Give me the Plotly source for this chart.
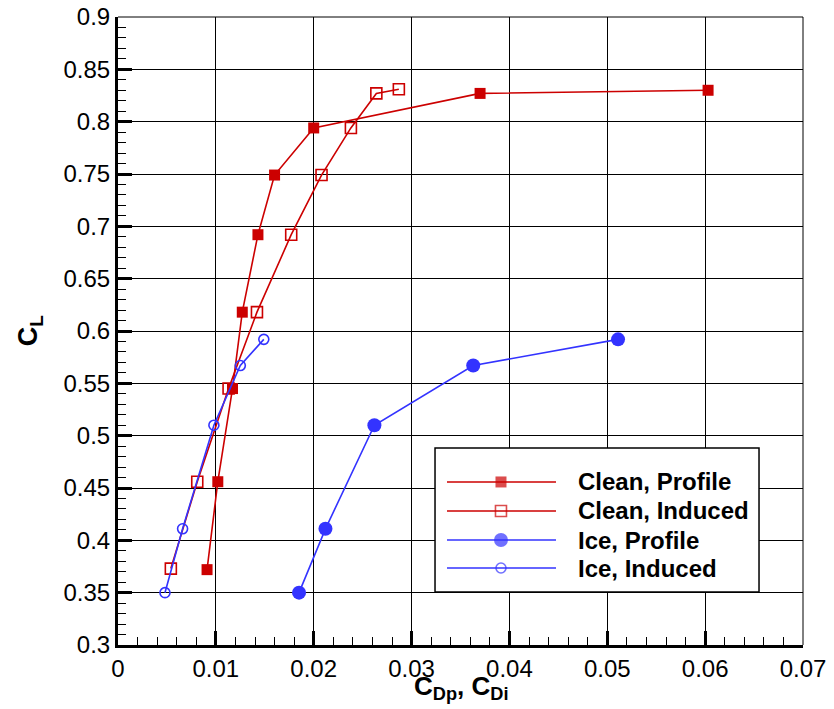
import plotly.graph_objects as go

# ---- data ----
clean_profile_cd = [0.0091, 0.0102, 0.0117, 0.0127, 0.0143, 0.0160, 0.0200, 0.0370, 0.0603]
clean_profile_cl = [0.372, 0.456, 0.545, 0.618, 0.692, 0.749, 0.794, 0.827, 0.830]

clean_induced_cd = [0.0054, 0.0081, 0.0113, 0.0142, 0.0177, 0.0208, 0.0238, 0.0264, 0.0287]
clean_induced_cl = [0.373, 0.456, 0.545, 0.618, 0.692, 0.749, 0.794, 0.827, 0.831]

ice_profile_cd = [0.0185, 0.0212, 0.0262, 0.0363, 0.0511]
ice_profile_cl = [0.350, 0.411, 0.510, 0.567, 0.592]

ice_induced_cd = [0.0048, 0.0066, 0.0098, 0.0125, 0.0149]
ice_induced_cl = [0.350, 0.411, 0.510, 0.567, 0.592]

series_names = ["Clean, Profile", "Clean, Induced", "Ice, Profile", "Ice, Induced"]

x_ticks = [0, 0.01, 0.02, 0.03, 0.04, 0.05, 0.06, 0.07]
x_ticklabels = ["0", "0.01", "0.02", "0.03", "0.04", "0.05", "0.06", "0.07"]
y_ticks = [0.3, 0.35, 0.4, 0.45, 0.5, 0.55, 0.6, 0.65, 0.7, 0.75, 0.8, 0.85, 0.9]
y_ticklabels = ["0.3", "0.35", "0.4", "0.45", "0.5", "0.55", "0.6", "0.65", "0.7", "0.75", "0.8", "0.85", "0.9"]

RED = "#CC0000"
BLUE = "#3333FF"
FONT = "Liberation Sans, Arial, sans-serif"

styles = [
    dict(color=RED, symbol="square", size=11, lw=0),
    dict(color=RED, symbol="square-open", size=11, lw=1.6),
    dict(color=BLUE, symbol="circle", size=14, lw=0),
    dict(color=BLUE, symbol="circle-open", size=10, lw=1.6),
]
data = [
    (clean_profile_cd, clean_profile_cl),
    (clean_induced_cd, clean_induced_cl),
    (ice_profile_cd, ice_profile_cl),
    (ice_induced_cd, ice_induced_cl),
]

fig = go.Figure()
for (xs, ys), st, name in zip(data, styles, series_names):
    fig.add_trace(go.Scatter(
        x=xs, y=ys, mode="lines+markers", name=name, showlegend=False,
        line=dict(color=st["color"], width=1.6),
        marker=dict(symbol=st["symbol"], size=st["size"], color=st["color"],
                    line=dict(color=st["color"], width=st["lw"])),
    ))

# ---- custom legend (overlay axes in [0,1] matching the plot area) ----
leg_x0, leg_x1 = 0.4628, 0.9358
leg_y0, leg_y1 = 0.0844, 0.3137
row_y = [0.2596, 0.2134, 0.1672, 0.1226]
line_x = [0.4803, 0.5591, 0.6394]
text_x = 0.6686

fig.add_trace(go.Scatter(
    x=[leg_x0, leg_x1, leg_x1, leg_x0, leg_x0], y=[leg_y0, leg_y0, leg_y1, leg_y1, leg_y0],
    xaxis="x2", yaxis="y2", mode="lines", fill="toself", fillcolor="white",
    line=dict(color="black", width=1.5), showlegend=False, hoverinfo="skip",
))
for st, name, ry in zip(styles, series_names, row_y):
    fig.add_trace(go.Scatter(
        x=line_x, y=[ry] * 3, xaxis="x2", yaxis="y2", mode="lines+markers", showlegend=False,
        line=dict(color=st["color"], width=1.6),
        marker=dict(symbol=st["symbol"], size=[0, st["size"], 0], color=st["color"],
                    line=dict(color=st["color"], width=st["lw"])),
        hoverinfo="skip",
    ))
    fig.add_annotation(x=text_x, y=ry, xref="x2", yref="y2", text="<b>" + name + "</b>",
                       showarrow=False, xanchor="left", yanchor="middle",
                       font=dict(family=FONT, size=24, color="black"))

# axis titles
fig.add_annotation(x=0.5, y=-0.038, xref="paper", yref="paper", yanchor="top", xanchor="center",
                   text="<b>C<sub>Dp</sub>, C<sub>Di</sub></b>", showarrow=False,
                   font=dict(family=FONT, size=26, color="black"))
fig.add_annotation(x=-0.128, y=0.5, xref="paper", yref="paper", yanchor="middle", xanchor="center",
                   text="<b>C<sub>L</sub></b>", showarrow=False, textangle=-90,
                   font=dict(family=FONT, size=27, color="black"))

# thin top/right frame
fig.add_shape(type="line", xref="paper", yref="paper", x0=0, x1=1, y0=1, y1=1,
              line=dict(color="black", width=1))
fig.add_shape(type="line", xref="paper", yref="paper", x0=1, x1=1, y0=0, y1=1,
              line=dict(color="black", width=1))

# page body has an 8px margin, so figure is 8px smaller and margins shifted
fig.update_layout(
    width=826, height=701,
    margin=dict(l=110, r=31, t=9, b=64),
    paper_bgcolor="white", plot_bgcolor="white",
    font=dict(family=FONT, color="black"),
    xaxis=dict(
        range=[0, 0.07], tickvals=x_ticks, ticktext=x_ticklabels, automargin=False,
        ticklabeloverflow="allow",
        showgrid=True, gridcolor="black", gridwidth=1, zeroline=False,
        showline=True, linecolor="black", linewidth=3,
        ticks="inside", ticklen=14, tickwidth=3, tickcolor="black",
        minor=dict(dtick=0.002, ticks="inside", ticklen=8, tickwidth=1, tickcolor="black", showgrid=False),
        tickfont=dict(size=24, family=FONT),
    ),
    yaxis=dict(
        range=[0.3, 0.9], tickvals=y_ticks, ticktext=y_ticklabels, automargin=False,
        ticklabeloverflow="allow",
        showgrid=True, gridcolor="black", gridwidth=1, zeroline=False,
        showline=True, linecolor="black", linewidth=3,
        ticks="inside", ticklen=14, tickwidth=3, tickcolor="black",
        minor=dict(dtick=0.01, ticks="inside", ticklen=8, tickwidth=1, tickcolor="black", showgrid=False),
        tickfont=dict(size=24, family=FONT),
    ),
    xaxis2=dict(overlaying="x", range=[0, 1], visible=False),
    yaxis2=dict(overlaying="y", range=[0, 1], visible=False),
)

fig.write_html("out.html")
